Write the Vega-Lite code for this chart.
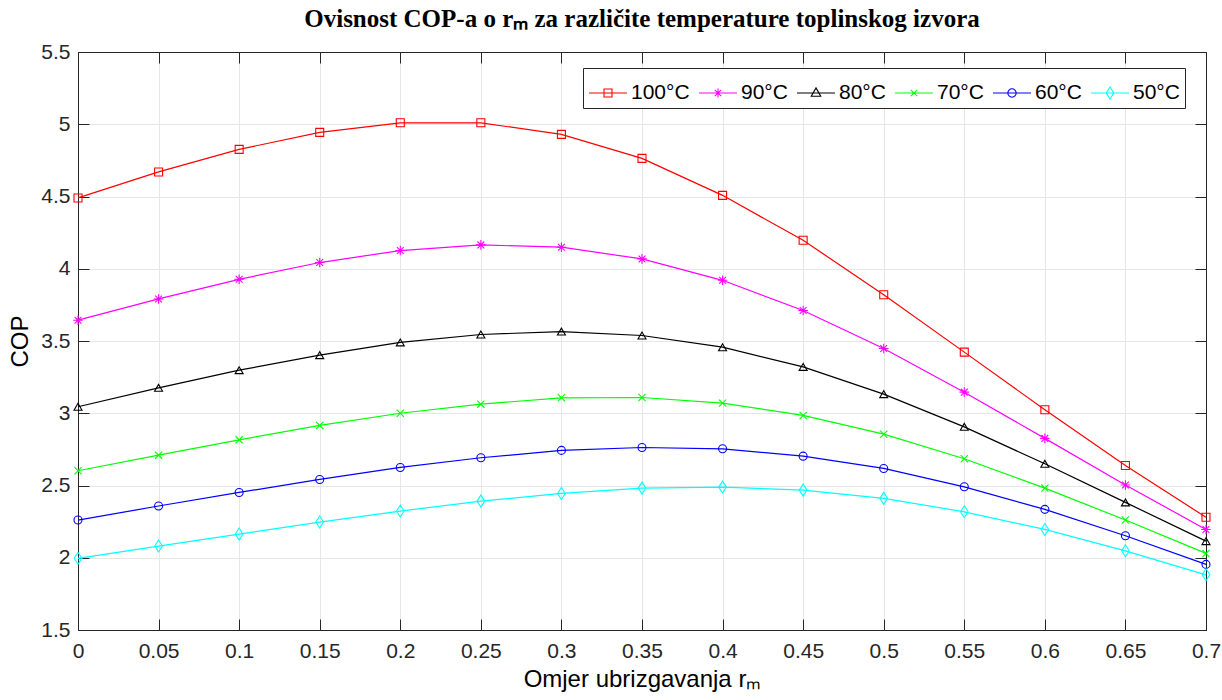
{
  "$schema": "https://vega.github.io/schema/vega-lite/v6.json",
  "autosize": "none",
  "width": 1128,
  "height": 578,
  "padding": {"left": 78, "top": 52, "right": 16, "bottom": 70},
  "background": "white",
  "title": {
    "text": "Ovisnost COP-a o rₘ za različite temperature toplinskog izvora",
    "font": "Liberation Serif",
    "fontSize": 25,
    "fontWeight": "bold",
    "color": "#000000",
    "anchor": "middle",
    "offset": 9
  },
  "data": {
    "values": [
      {"x": 0, "T": "100°C", "cop": 4.49},
      {"x": 0.05, "T": "100°C", "cop": 4.67},
      {"x": 0.1, "T": "100°C", "cop": 4.826},
      {"x": 0.15, "T": "100°C", "cop": 4.944},
      {"x": 0.2, "T": "100°C", "cop": 5.01},
      {"x": 0.25, "T": "100°C", "cop": 5.01},
      {"x": 0.3, "T": "100°C", "cop": 4.93},
      {"x": 0.35, "T": "100°C", "cop": 4.764},
      {"x": 0.4, "T": "100°C", "cop": 4.508},
      {"x": 0.45, "T": "100°C", "cop": 4.197},
      {"x": 0.5, "T": "100°C", "cop": 3.82},
      {"x": 0.55, "T": "100°C", "cop": 3.423},
      {"x": 0.6, "T": "100°C", "cop": 3.024},
      {"x": 0.65, "T": "100°C", "cop": 2.638},
      {"x": 0.7, "T": "100°C", "cop": 2.28},
      {"x": 0, "T": "90°C", "cop": 3.644},
      {"x": 0.05, "T": "90°C", "cop": 3.791},
      {"x": 0.1, "T": "90°C", "cop": 3.927},
      {"x": 0.15, "T": "90°C", "cop": 4.043},
      {"x": 0.2, "T": "90°C", "cop": 4.126},
      {"x": 0.25, "T": "90°C", "cop": 4.165},
      {"x": 0.3, "T": "90°C", "cop": 4.149},
      {"x": 0.35, "T": "90°C", "cop": 4.068},
      {"x": 0.4, "T": "90°C", "cop": 3.92},
      {"x": 0.45, "T": "90°C", "cop": 3.711},
      {"x": 0.5, "T": "90°C", "cop": 3.448},
      {"x": 0.55, "T": "90°C", "cop": 3.146},
      {"x": 0.6, "T": "90°C", "cop": 2.826},
      {"x": 0.65, "T": "90°C", "cop": 2.503},
      {"x": 0.7, "T": "90°C", "cop": 2.196},
      {"x": 0, "T": "80°C", "cop": 3.045},
      {"x": 0.05, "T": "80°C", "cop": 3.176},
      {"x": 0.1, "T": "80°C", "cop": 3.298},
      {"x": 0.15, "T": "80°C", "cop": 3.402},
      {"x": 0.2, "T": "80°C", "cop": 3.49},
      {"x": 0.25, "T": "80°C", "cop": 3.545},
      {"x": 0.3, "T": "80°C", "cop": 3.565},
      {"x": 0.35, "T": "80°C", "cop": 3.538},
      {"x": 0.4, "T": "80°C", "cop": 3.457},
      {"x": 0.45, "T": "80°C", "cop": 3.321},
      {"x": 0.5, "T": "80°C", "cop": 3.132},
      {"x": 0.55, "T": "80°C", "cop": 2.906},
      {"x": 0.6, "T": "80°C", "cop": 2.65},
      {"x": 0.65, "T": "80°C", "cop": 2.383},
      {"x": 0.7, "T": "80°C", "cop": 2.115},
      {"x": 0, "T": "70°C", "cop": 2.602},
      {"x": 0.05, "T": "70°C", "cop": 2.71},
      {"x": 0.1, "T": "70°C", "cop": 2.816},
      {"x": 0.15, "T": "70°C", "cop": 2.916},
      {"x": 0.2, "T": "70°C", "cop": 3.0},
      {"x": 0.25, "T": "70°C", "cop": 3.063},
      {"x": 0.3, "T": "70°C", "cop": 3.107},
      {"x": 0.35, "T": "70°C", "cop": 3.109},
      {"x": 0.4, "T": "70°C", "cop": 3.07},
      {"x": 0.45, "T": "70°C", "cop": 2.985},
      {"x": 0.5, "T": "70°C", "cop": 2.855},
      {"x": 0.55, "T": "70°C", "cop": 2.685},
      {"x": 0.6, "T": "70°C", "cop": 2.482},
      {"x": 0.65, "T": "70°C", "cop": 2.261},
      {"x": 0.7, "T": "70°C", "cop": 2.03},
      {"x": 0, "T": "60°C", "cop": 2.261},
      {"x": 0.05, "T": "60°C", "cop": 2.358},
      {"x": 0.1, "T": "60°C", "cop": 2.452},
      {"x": 0.15, "T": "60°C", "cop": 2.542},
      {"x": 0.2, "T": "60°C", "cop": 2.625},
      {"x": 0.25, "T": "60°C", "cop": 2.692},
      {"x": 0.3, "T": "60°C", "cop": 2.743},
      {"x": 0.35, "T": "60°C", "cop": 2.763},
      {"x": 0.4, "T": "60°C", "cop": 2.754},
      {"x": 0.45, "T": "60°C", "cop": 2.703},
      {"x": 0.5, "T": "60°C", "cop": 2.618},
      {"x": 0.55, "T": "60°C", "cop": 2.491},
      {"x": 0.6, "T": "60°C", "cop": 2.335},
      {"x": 0.65, "T": "60°C", "cop": 2.152},
      {"x": 0.7, "T": "60°C", "cop": 1.954},
      {"x": 0, "T": "50°C", "cop": 1.996},
      {"x": 0.05, "T": "50°C", "cop": 2.081},
      {"x": 0.1, "T": "50°C", "cop": 2.164},
      {"x": 0.15, "T": "50°C", "cop": 2.247},
      {"x": 0.2, "T": "50°C", "cop": 2.323},
      {"x": 0.25, "T": "50°C", "cop": 2.392},
      {"x": 0.3, "T": "50°C", "cop": 2.445},
      {"x": 0.35, "T": "50°C", "cop": 2.482},
      {"x": 0.4, "T": "50°C", "cop": 2.489},
      {"x": 0.45, "T": "50°C", "cop": 2.468},
      {"x": 0.5, "T": "50°C", "cop": 2.411},
      {"x": 0.55, "T": "50°C", "cop": 2.318},
      {"x": 0.6, "T": "50°C", "cop": 2.196},
      {"x": 0.65, "T": "50°C", "cop": 2.048},
      {"x": 0.7, "T": "50°C", "cop": 1.882}
    ]
  },
  "encoding": {
    "x": {
      "field": "x", "type": "quantitative",
      "scale": {"domain": [0, 0.7], "nice": false, "zero": false},
      "axis": {
        "title": "Omjer ubrizgavanja rₘ",
        "values": [0, 0.05, 0.1, 0.15, 0.2, 0.25, 0.3, 0.35, 0.4, 0.45, 0.5, 0.55, 0.6, 0.65, 0.7],
        "labelExpr": "format(datum.value, '.2~f')",
        "labelPadding": 21,
        "titlePadding": 6
      }
    },
    "y": {
      "field": "cop", "type": "quantitative",
      "scale": {"domain": [1.5, 5.5], "nice": false, "zero": false},
      "axis": {
        "title": "COP",
        "values": [1.5, 2, 2.5, 3, 3.5, 4, 4.5, 5, 5.5],
        "labelExpr": "format(datum.value, '.1~f')",
        "labelPadding": 19,
        "titlePadding": 8
      }
    },
    "color": {
      "field": "T", "type": "nominal",
      "scale": {
        "domain": ["100°C", "90°C", "80°C", "70°C", "60°C", "50°C"],
        "range": ["#ff0000", "#ff00ff", "#000000", "#00ff00", "#0000ff", "#00ffff"]
      },
      "legend": {
        "title": null,
        "orient": "none",
        "legendX": 505,
        "legendY": 16,
        "direction": "horizontal",
        "columns": 6,
        "labelFontSize": 21,
        "labelFont": "Liberation Sans",
        "labelColor": "#000000",
        "labelLimit": 200,
        "labelOffset": 3,
        "symbolSize": 1444,
        "symbolStrokeWidth": 1.1,
        "symbolType": "stroke",
        "columnPadding": 6,
        "strokeColor": "#262626",
        "fillColor": "white",
        "padding": 5,
        "encode": {
          "symbols": {
            "update": {
              "shape": {"signal": "datum.value === '100°C' ? 'M-1,0L1,0M-0.21,-0.21L0.21,-0.21L0.21,0.21L-0.21,0.21Z' : datum.value === '90°C' ? 'M-1,0L1,0M0,-0.24L0,0.24M-0.17,-0.17L0.17,0.17M-0.17,0.17L0.17,-0.17' : datum.value === '80°C' ? 'M-1,0L1,0M0,-0.27L0.25,0.17L-0.25,0.17Z' : datum.value === '70°C' ? 'M-1,0L1,0M-0.17,-0.17L0.17,0.17M-0.17,0.17L0.17,-0.17' : datum.value === '60°C' ? 'M-1,0L1,0M0.22,0A0.22,0.22,0,1,1,-0.22,0A0.22,0.22,0,1,1,0.22,0' : 'M-1,0L1,0M0,-0.32L0.2,0L0,0.32L-0.2,0Z'"},
              "fill": {"value": "transparent"},
              "strokeWidth": {"value": 1.1}
            }
          }
        }
      }
    }
  },
  "layer": [
    {
      "layer": [
        {"mark": {"type": "line", "strokeWidth": 1.2}},
        {"transform": [{"filter": "datum.T === '100°C'"}],
         "mark": {"type": "point", "filled": false, "strokeWidth": 1.1, "size": 64, "opacity": 1, "shape": "square"}},
        {"transform": [{"filter": "datum.T === '90°C'"}],
         "mark": {"type": "point", "filled": false, "strokeWidth": 1.1, "size": 64, "opacity": 1, "shape": "M-1.2,0L1.2,0M0,-1.2L0,1.2M-0.85,-0.85L0.85,0.85M-0.85,0.85L0.85,-0.85"}},
        {"transform": [{"filter": "datum.T === '80°C'"}],
         "mark": {"type": "point", "filled": false, "strokeWidth": 1.1, "size": 64, "opacity": 1, "shape": "triangle-up"}},
        {"transform": [{"filter": "datum.T === '70°C'"}],
         "mark": {"type": "point", "filled": false, "strokeWidth": 1.1, "size": 64, "opacity": 1, "shape": "M-0.9,-0.9L0.9,0.9M-0.9,0.9L0.9,-0.9"}},
        {"transform": [{"filter": "datum.T === '60°C'"}],
         "mark": {"type": "point", "filled": false, "strokeWidth": 1.1, "size": 64, "opacity": 1, "shape": "circle"}},
        {"transform": [{"filter": "datum.T === '50°C'"}],
         "mark": {"type": "point", "filled": false, "strokeWidth": 1.1, "size": 64, "opacity": 1, "shape": "M0,-1.5L0.95,0L0,1.5L-0.95,0Z"}}
      ]
    },
    {
      "mark": {"type": "point", "opacity": 0},
      "encoding": {
        "x": {
          "field": "x", "type": "quantitative",
          "axis": {"orient": "top", "labels": false, "title": null, "grid": false,
            "values": [0, 0.05, 0.1, 0.15, 0.2, 0.25, 0.3, 0.35, 0.4, 0.45, 0.5, 0.55, 0.6, 0.65, 0.7]}
        },
        "y": {
          "field": "cop", "type": "quantitative",
          "axis": {"orient": "right", "labels": false, "title": null, "grid": false,
            "values": [1.5, 2, 2.5, 3, 3.5, 4, 4.5, 5, 5.5]}
        },
        "color": {"value": "white"}
      }
    }
  ],
  "resolve": {"axis": {"x": "independent", "y": "independent"}},
  "config": {
    "view": {"stroke": "#262626", "strokeWidth": 1},
    "axis": {
      "labelFont": "Liberation Sans",
      "labelFontSize": 21,
      "labelColor": "#262626",
      "titleFont": "Liberation Sans",
      "titleFontSize": 24,
      "titleFontWeight": "normal",
      "titleColor": "#000000",
      "domainColor": "#262626",
      "tickColor": "#262626",
      "tickSize": -11,
      "gridColor": "#e6e6e6",
      "gridWidth": 1,
      "grid": true,
      "labelFlush": false,
      "labelOverlap": false
    }
  }
}
